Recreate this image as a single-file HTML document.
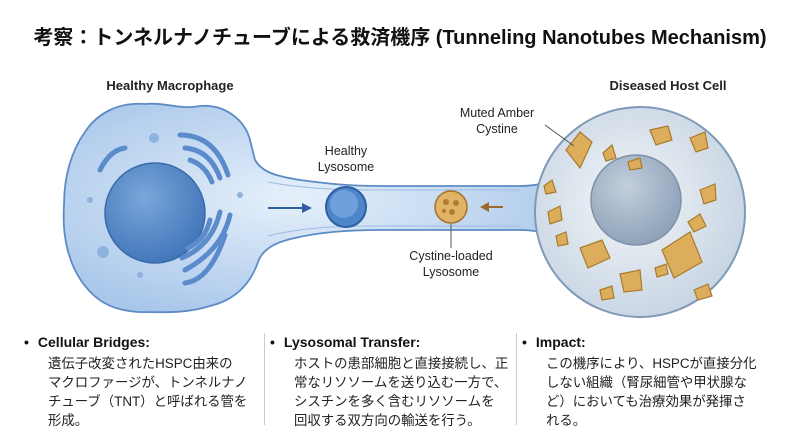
<!DOCTYPE html>
<html><head><meta charset="utf-8"><style>
body{margin:0;background:#fff;width:800px;height:431px;overflow:hidden;font-family:"Liberation Sans","Noto Sans CJK JP",sans-serif}
.col{position:absolute;top:333px;width:240px;font-size:13.4px;line-height:19px;color:#222}
.col h4{margin:0 0 2px 0;font-size:14px;font-weight:bold;color:#111}
.col h4:before{content:"•";margin-right:9px}
.col p{margin:0;padding-left:24px}
.div{position:absolute;top:333px;height:92px;width:1px;background:#ccc}
</style></head><body>
<svg width="800" height="431" style="position:absolute;left:0;top:0">
<defs>
<radialGradient id="cg" cx="0.45" cy="0.45" r="0.6"><stop offset="0" stop-color="#e6f0fb"/><stop offset="1" stop-color="#a9c7ea"/></radialGradient>
<radialGradient id="ng" cx="0.4" cy="0.35" r="0.7"><stop offset="0" stop-color="#7aa6da"/><stop offset="1" stop-color="#3f74b8"/></radialGradient>
<radialGradient id="rg" cx="0.45" cy="0.45" r="0.6"><stop offset="0" stop-color="#f4f6f8"/><stop offset="1" stop-color="#c5d3e2"/></radialGradient>
<radialGradient id="rn" cx="0.4" cy="0.35" r="0.7"><stop offset="0" stop-color="#c3cfdc"/><stop offset="1" stop-color="#8b9fb6"/></radialGradient>
<linearGradient id="tg" x1="0" y1="0" x2="0" y2="1"><stop offset="0" stop-color="#bcd3ee"/><stop offset="0.5" stop-color="#e6f0fa"/><stop offset="1" stop-color="#bcd3ee"/></linearGradient>
</defs>
<text x="400" y="44" text-anchor="middle" font-size="20" font-weight="bold" fill="#111">考察：トンネルナノチューブによる救済機序 (Tunneling Nanotubes Mechanism)</text>
<text x="170" y="90" text-anchor="middle" font-size="13" font-weight="bold" fill="#222">Healthy Macrophage</text>
<text x="668" y="90" text-anchor="middle" font-size="13" font-weight="bold" fill="#222">Diseased Host Cell</text>
<!-- left cell + tube combined -->
<path d="M255 160 C262 172 275 176 300 180 C330 184 350 186 380 186 L520 186 C540 186 555 180 575 175 L575 242 C555 236 540 230 520 230 L380 230 C350 230 320 232 295 238 C275 242 262 250 258 262 C250 285 235 300 210 306 C185 314 160 312 138 312 C110 310 95 300 82 282 C68 262 62 235 64 205 C64 175 72 150 85 132 C98 112 120 102 145 104 C165 102 180 110 200 106 C225 104 245 120 250 140 Z" fill="url(#cg)" stroke="#5d8cc4" stroke-width="1.8"/>
<path d="M268 182 C300 188 330 190 380 190 L520 190 M268 236 C300 228 330 226 380 226 L520 226" fill="none" stroke="#9dbbe0" stroke-width="1"/>
<!-- right cell -->
<circle cx="640" cy="212" r="105" fill="url(#rg)" stroke="#7f9ab8" stroke-width="2"/>
<circle cx="636" cy="200" r="45" fill="url(#rn)" stroke="#7d91a8" stroke-width="1.5"/>
<g fill="#dcae5c" stroke="#a87a2c" stroke-width="1.2">
<polygon points="566,150 580,132 592,142 580,168"/>
<polygon points="603,153 612,145 616,158 606,161"/>
<polygon points="650,130 668,126 672,140 656,145"/>
<polygon points="690,138 705,132 708,148 696,152"/>
<polygon points="700,190 715,184 716,200 704,204"/>
<polygon points="688,222 700,214 706,226 694,232"/>
<polygon points="662,250 690,232 702,262 674,278"/>
<polygon points="655,268 666,264 668,274 657,277"/>
<polygon points="580,248 602,240 610,258 588,268"/>
<polygon points="620,274 640,270 642,290 624,292"/>
<polygon points="600,290 612,286 614,298 602,300"/>
<polygon points="548,212 560,206 562,220 550,224"/>
<polygon points="556,236 566,232 568,244 558,246"/>
<polygon points="544,186 552,180 556,192 546,194"/>
<polygon points="628,162 640,158 642,168 630,170"/>
<polygon points="694,290 708,284 712,296 698,300"/>
</g>
<circle cx="155" cy="213" r="50" fill="url(#ng)" stroke="#3b6aaa" stroke-width="1.5"/>
<g fill="none" stroke="#5b8bcb" stroke-width="5" stroke-linecap="round">
<path d="M100 170 Q110 150 125 148"/>
<path d="M180 135 Q215 135 228 175"/>
<path d="M185 148 Q210 150 220 178"/>
<path d="M190 160 Q205 165 212 182"/>
<path d="M230 215 Q222 250 185 270"/>
<path d="M220 212 Q212 245 182 258"/>
<path d="M210 220 Q205 240 188 248"/>
<path d="M225 235 Q210 280 185 283"/>
</g>
<g fill="#8fb1de"><circle cx="154" cy="138" r="5"/><circle cx="103" cy="252" r="6"/><circle cx="90" cy="200" r="3"/><circle cx="240" cy="195" r="3"/><circle cx="140" cy="275" r="3"/></g>
<!-- lysosomes -->
<circle cx="346" cy="207" r="20" fill="#4f86c9" stroke="#2e5f9e" stroke-width="2"/>
<circle cx="344" cy="204" r="14" fill="#6da0dc"/>
<circle cx="451" cy="207" r="16" fill="#e0b366" stroke="#a57327" stroke-width="1.5"/>
<g fill="#b27c2e"><circle cx="446" cy="202" r="3"/><circle cx="456" cy="203" r="3"/><circle cx="452" cy="212" r="3"/><circle cx="444" cy="211" r="2"/></g>
<!-- arrows -->
<line x1="268" y1="208" x2="306" y2="208" stroke="#2f5f9c" stroke-width="2"/>
<polygon points="312,208 302,203 302,213" fill="#2f5f9c"/>
<line x1="503" y1="207" x2="486" y2="207" stroke="#9c6a2a" stroke-width="2"/>
<polygon points="480,207 489,202 489,212" fill="#9c6a2a"/>
<!-- labels -->
<text x="346" y="155" text-anchor="middle" font-size="12.5" fill="#222">Healthy</text>
<text x="346" y="171" text-anchor="middle" font-size="12.5" fill="#222">Lysosome</text>
<text x="497" y="117" text-anchor="middle" font-size="12.5" fill="#222">Muted Amber</text>
<text x="497" y="133" text-anchor="middle" font-size="12.5" fill="#222">Cystine</text>
<line x1="545" y1="125" x2="574" y2="146" stroke="#555" stroke-width="1"/>
<line x1="451" y1="224" x2="451" y2="248" stroke="#555" stroke-width="1"/>
<text x="451" y="260" text-anchor="middle" font-size="12.5" fill="#222">Cystine-loaded</text>
<text x="451" y="276" text-anchor="middle" font-size="12.5" fill="#222">Lysosome</text>
</svg>
<div class="col" style="left:24px"><h4>Cellular Bridges:</h4><p>遺伝子改変されたHSPC由来の<br>マクロファージが、トンネルナノ<br>チューブ（TNT）と呼ばれる管を<br>形成。</p></div>
<div class="div" style="left:264px"></div>
<div class="col" style="left:270px;width:245px"><h4>Lysosomal Transfer:</h4><p>ホストの患部細胞と直接接続し、正<br>常なリソソームを送り込む一方で、<br>シスチンを多く含むリソソームを<br>回収する双方向の輸送を行う。</p></div>
<div class="div" style="left:516px"></div>
<div class="col" style="left:522px;width:270px"><h4>Impact:</h4><p>この機序により、HSPCが直接分化<br>しない組織（腎尿細管や甲状腺な<br>ど）においても治療効果が発揮さ<br>れる。</p></div>
</body></html>
